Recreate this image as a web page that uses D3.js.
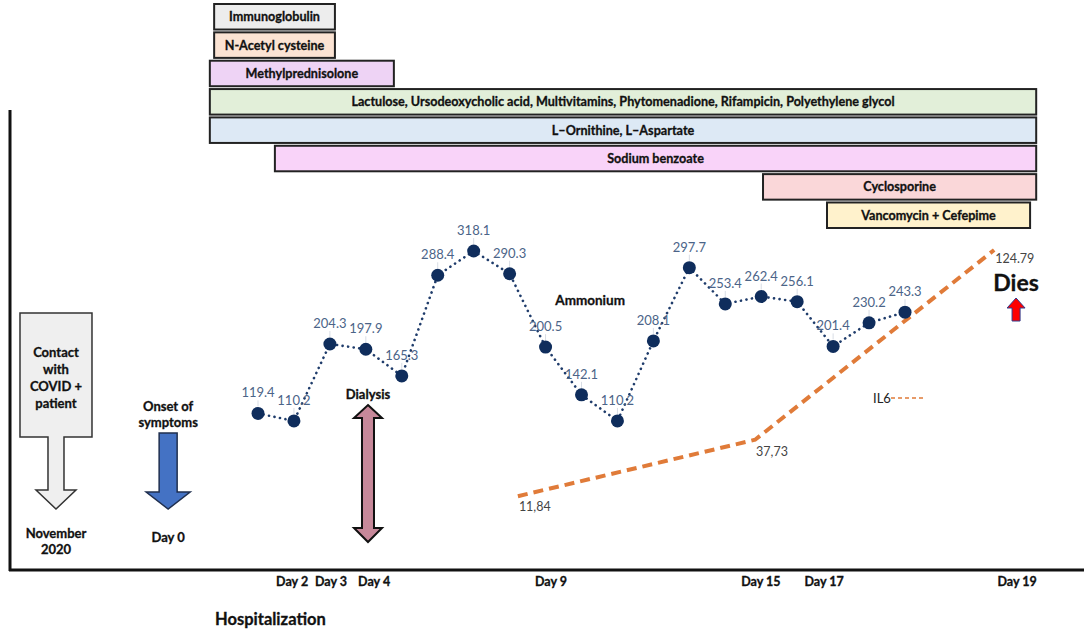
<!DOCTYPE html>
<html>
<head>
<meta charset="utf-8">
<script src="https://cdn.jsdelivr.net/npm/d3@7"></script>
<style>
  body { margin: 0; background: #fff; }
  text { font-family: Lato, "Open Sans", sans-serif; }
  .b { font-weight: bold; stroke: #111; stroke-width: 0.3px; fill: #111; }
</style>
</head>
<body>
<div id="chart"></div>
<script>
// Ammonium measurements (one per sample, evenly spaced on the timeline)
const ammoniumValues = [119.4, 110.2, 204.3, 197.9, 165.3, 288.4, 318.1, 290.3, 200.5, 142.1,
  110.2, 208.1, 297.7, 253.4, 262.4, 256.1, 201.4, 230.2, 243.3];

// IL6 measurements, timeline position in sample units
const il6Values = [11.84, 37.73, 124.79];
const il6Labels = ["11,84", "37,73", "124.79"];
const il6Pos = [7.23, 13.83, 20.48];

// Day ticks on the bottom line
const dayLabels = ["Day 2", "Day 3", "Day 4", "Day 9", "Day 15", "Day 17", "Day 19"];
const dayPos = [0.95, 2.03, 3.23, 8.15, 13.99, 15.75, 21.12];

// Treatments
const drugs = ["Immunoglobulin", "N-Acetyl cysteine", "Methylprednisolone",
  "Lactulose, Ursodeoxycholic acid, Multivitamins, Phytomenadione, Rifampicin, Polyethylene glycol",
  "L–Ornithine, L–Aspartate", "Sodium benzoate", "Cyclosporine", "Vancomycin + Cefepime"];
const drugStart = [-1.22, -1.22, -1.34, -1.34, -1.34, 0.47, 14.05, 15.83];
const drugEnd = [2.14, 2.14, 3.78, 21.65, 21.65, 21.65, 21.65, 21.48];
const drugColors = ["#ededed", "#fbe3d3", "#eed3f5", "#e2efd9", "#dde9f5", "#f9d3f9", "#fad7d9", "#fff2cc"];

// Events on the timeline
const contactPos = -5.62, onsetPos = -2.50, dialysisPos = 3.06, diesPos = 21.09, ammoniumLabelPos = 9.24;

const width = 1084, height = 634;

const svg = d3.select("#chart").append("svg")
  .attr("width", width)
  .attr("height", height);

// Scales
const x = d3.scaleLinear().domain([0, 18]).range([258, 905]);
const yAmm = d3.scaleLinear().domain([0, 318.1]).range([511, 251]);
const yIL6 = d3.scaleLinear().domain([0, 124.79]).range([522, 250]);
const row = d3.scaleBand().domain(drugs).range([4, 228]).paddingInner(0.1);

// Axis lines
svg.append("line").attr("x1", 10).attr("x2", 10).attr("y1", 110).attr("y2", 571)
  .attr("stroke", "#111").attr("stroke-width", 3);
svg.append("line").attr("x1", 9).attr("x2", width).attr("y1", 570).attr("y2", 570)
  .attr("stroke", "#111").attr("stroke-width", 3);

// Day labels
svg.append("g").selectAll("text")
  .data(dayLabels)
  .join("text")
  .attr("class", "b")
  .attr("x", (d, i) => x(dayPos[i]))
  .attr("y", 586)
  .attr("text-anchor", "middle")
  .attr("font-size", 12.5)
  .text(d => d);

svg.append("text").attr("class", "b").attr("x", 215).attr("y", 625)
  .attr("font-size", 16.5).text("Hospitalization");

// Treatment bars
const bars = svg.append("g").selectAll("g")
  .data(drugs)
  .join("g");

bars.append("rect")
  .attr("x", (d, i) => x(drugStart[i]))
  .attr("y", d => row(d))
  .attr("width", (d, i) => x(drugEnd[i]) - x(drugStart[i]))
  .attr("height", row.bandwidth())
  .attr("fill", (d, i) => drugColors[i])
  .attr("stroke", "#222")
  .attr("stroke-width", 2);

bars.append("text")
  .attr("class", "b")
  .attr("x", (d, i) => (x(drugStart[i]) + x(drugEnd[i])) / 2)
  .attr("y", d => row(d) + row.bandwidth() / 2 + 4.5)
  .attr("text-anchor", "middle")
  .attr("font-size", 12.6)
  .text(d => d);

// Contact callout (box with down arrow)
const cx = x(contactPos);
svg.append("path")
  .attr("d", `M${cx - 36},313 H${cx + 36} V437 H${cx + 8} V490 H${cx + 20} L${cx},509 L${cx - 20},490 H${cx - 8} V437 H${cx - 36} Z`)
  .attr("fill", "#efefef").attr("stroke", "#333").attr("stroke-width", 1.5);
svg.append("text").attr("class", "b").attr("text-anchor", "middle").attr("font-size", 13)
  .selectAll("tspan").data(["Contact", "with", "COVID +", "patient"]).join("tspan")
  .attr("x", cx).attr("y", (d, i) => 357 + i * 17).text(d => d);
svg.append("text").attr("class", "b").attr("text-anchor", "middle").attr("font-size", 13)
  .selectAll("tspan").data(["November", "2020"]).join("tspan")
  .attr("x", cx).attr("y", (d, i) => 538 + i * 16).text(d => d);

// Onset of symptoms
const ox = x(onsetPos);
svg.append("text").attr("class", "b").attr("text-anchor", "middle").attr("font-size", 13)
  .selectAll("tspan").data(["Onset of", "symptoms"]).join("tspan")
  .attr("x", ox).attr("y", (d, i) => 411 + i * 16).text(d => d);
svg.append("path")
  .attr("d", `M${ox - 9},433 H${ox + 9} V492 H${ox + 22} L${ox},509 L${ox - 22},492 H${ox - 9} Z`)
  .attr("fill", "#4472c4").attr("stroke", "#1f2f4f").attr("stroke-width", 1.5);
svg.append("text").attr("class", "b").attr("x", ox).attr("y", 542).attr("text-anchor", "middle")
  .attr("font-size", 13).text("Day 0");

// Dialysis double arrow
const dx = x(dialysisPos);
svg.append("text").attr("class", "b").attr("x", dx).attr("y", 399).attr("text-anchor", "middle")
  .attr("font-size", 13).text("Dialysis");
svg.append("path")
  .attr("d", `M${dx},405 L${dx + 14},418 H${dx + 6} V528 H${dx + 14} L${dx},542 L${dx - 14},528 H${dx - 6} V418 H${dx - 14} Z`)
  .attr("fill", "#c7889a").attr("stroke", "#111").attr("stroke-width", 2);

// IL6 line
const il6Line = d3.line()
  .x((d, i) => x(il6Pos[i]))
  .y(d => yIL6(d));
svg.append("path")
  .datum(il6Values)
  .attr("d", il6Line)
  .attr("fill", "none")
  .attr("stroke", "#e07b39")
  .attr("stroke-width", 4)
  .attr("stroke-dasharray", "10,6");

const il6Dy = [15, 16, 13];
svg.append("g").selectAll("text")
  .data(il6Values)
  .join("text")
  .attr("x", (d, i) => x(il6Pos[i]) + 1)
  .attr("y", (d, i) => yIL6(d) + il6Dy[i])
  .attr("font-family", "'Open Sans', sans-serif")
  .attr("font-size", 12.5)
  .attr("fill", "#444")
  .text((d, i) => il6Labels[i]);

// IL6 legend
svg.append("text").attr("x", 873).attr("y", 403).attr("font-size", 13).attr("fill", "#222").text("IL6");
svg.append("line").attr("x1", 891).attr("x2", 925).attr("y1", 398).attr("y2", 398)
  .attr("stroke", "#e07b39").attr("stroke-width", 1.5).attr("stroke-dasharray", "4,3");

// Ammonium line
const ammLine = d3.line()
  .x((d, i) => x(i))
  .y(d => yAmm(d));
svg.append("path")
  .datum(ammoniumValues)
  .attr("d", ammLine)
  .attr("fill", "none")
  .attr("stroke", "#1f3c6b")
  .attr("stroke-width", 2.6)
  .attr("stroke-linecap", "round")
  .attr("stroke-dasharray", "0.1,5.5");

// leader ticks
svg.append("g").selectAll("line")
  .data(ammoniumValues)
  .join("line")
  .attr("x1", (d, i) => x(i)).attr("x2", (d, i) => x(i))
  .attr("y1", d => yAmm(d) - 13).attr("y2", d => yAmm(d) - 7)
  .attr("stroke", "#d8dde5").attr("stroke-width", 1);

svg.append("g").selectAll("circle")
  .data(ammoniumValues)
  .join("circle")
  .attr("cx", (d, i) => x(i))
  .attr("cy", d => yAmm(d))
  .attr("r", 6.5)
  .attr("fill", "#0f2d5c");

svg.append("g").selectAll("text")
  .data(ammoniumValues)
  .join("text")
  .attr("x", (d, i) => x(i))
  .attr("y", d => yAmm(d) - 16)
  .attr("text-anchor", "middle")
  .attr("font-family", "Roboto, sans-serif")
  .attr("font-size", 13)
  .attr("fill", "#4b6488")
  .text(d => d3.format(".1f")(d));

svg.append("text").attr("class", "b").attr("x", x(ammoniumLabelPos)).attr("y", 305).attr("text-anchor", "middle")
  .attr("font-size", 13.5).text("Ammonium");

// Dies
const ex = x(diesPos);
svg.append("text").attr("class", "b").attr("x", ex).attr("y", 291).attr("text-anchor", "middle")
  .attr("font-size", 23).text("Dies");
svg.append("path")
  .attr("d", `M${ex},298 L${ex + 9},308 H${ex + 4} V321 H${ex - 4} V308 H${ex - 9} Z`)
  .attr("fill", "#ff0000").attr("stroke", "#2f3c8c").attr("stroke-width", 1);
</script>
</body>
</html>
